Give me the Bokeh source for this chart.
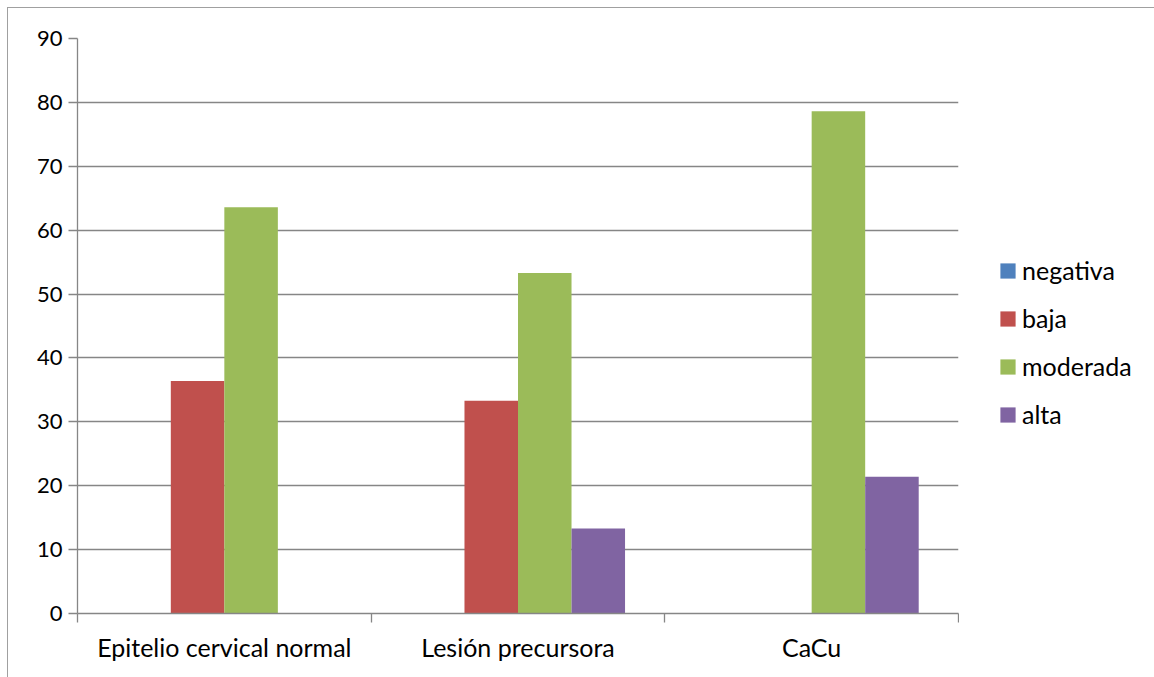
from bokeh.plotting import figure
from bokeh.layouts import row
from bokeh.models import Range1d, FixedTicker, Legend, LegendItem, ColumnDataSource
from bokeh.embed import file_html
from bokeh.resources import INLINE

# Percentage of cases per expression level in each tissue group
categories = ["Epitelio cervical normal", "Lesión precursora", "CaCu"]
series = ["negativa", "baja", "moderada", "alta"]
negativa = [0, 0, 0]
baja = [36.4, 33.3, 0]
moderada = [63.6, 53.3, 78.6]
alta = [0, 13.3, 21.4]
y_ticks = [0, 10, 20, 30, 40, 50, 60, 70, 80, 90]

colors = ["#4F81BD", "#C0504D", "#9BBB59", "#8064A2"]
FONT = "Lato"
GRID = "#868686"

values = [negativa, baja, moderada, alta]
n_series = len(series)
group_frac = 0.729
bar_w = group_frac / n_series

p = figure(width=951, height=669,
           x_range=Range1d(0, len(categories)), y_range=Range1d(0, 90),
           output_backend="svg", toolbar_location=None,
           min_border_left=69, min_border_right=1,
           min_border_top=30, min_border_bottom=64)
p.outline_line_color = None
p.background_fill_color = "white"
p.border_fill_color = "white"

sources = []
for k, vals in enumerate(values):
    offset = (k - (n_series - 1) / 2) * bar_w
    src = ColumnDataSource(dict(x=[i + 0.5 + offset for i in range(len(vals))], top=vals))
    p.vbar(x="x", top="top", bottom=0, width=bar_w, source=src,
           fill_color=colors[k], line_color=None)
    sources.append(src)

# grid
p.xgrid.visible = False
p.ygrid.ticker = FixedTicker(ticks=y_ticks)
p.ygrid.grid_line_color = GRID
p.ygrid.grid_line_width = 1.3

# y axis
ya = p.yaxis[0]
ya.ticker = FixedTicker(ticks=y_ticks)
ya.axis_line_color = GRID
ya.axis_line_width = 1.3
ya.major_tick_line_color = GRID
ya.major_tick_line_width = 1.3
ya.major_tick_out = 9
ya.major_tick_in = 0
ya.minor_tick_line_color = None
ya.major_label_text_font = FONT
ya.major_label_text_font_size = "22px"
ya.major_label_text_color = "black"
ya.major_label_standoff = 6

# x axis: labels at group centers, tick marks at group boundaries
xa = p.xaxis[0]
xa.ticker = FixedTicker(ticks=[i + 0.5 for i in range(len(categories))],
                        minor_ticks=list(range(len(categories) + 1)))
xa.major_label_overrides = {i + 0.5: c for i, c in enumerate(categories)}
xa.axis_line_color = GRID
xa.axis_line_width = 1.3
xa.major_tick_out = 0
xa.major_tick_in = 0
xa.minor_tick_out = 9
xa.minor_tick_in = 0
xa.minor_tick_line_color = GRID
xa.minor_tick_line_width = 1.3
xa.major_label_text_font = FONT
xa.major_label_text_font_size = "25px"
xa.major_label_text_color = "black"
xa.major_label_standoff = 9

# legend panel on the right; its swatch renderers reuse the bar data,
# which lies well outside this panel's ranges so only the legend shows
side = figure(width=195, height=669,
              x_range=Range1d(-11, -10), y_range=Range1d(200, 300),
              output_backend="svg", toolbar_location=None,
              x_axis_location=None, y_axis_location=None,
              min_border_left=0, min_border_right=0,
              min_border_top=0, min_border_bottom=0)
side.outline_line_color = None
side.grid.visible = False
side.background_fill_color = "white"
side.border_fill_color = "white"

swatches = [side.vbar(x="x", top="top", bottom=0, width=bar_w, source=src,
                      fill_color=c, line_color=None)
            for src, c in zip(sources, colors)]

legend = Legend(items=[LegendItem(label=s, renderers=[r]) for s, r in zip(series, swatches)],
                location=(39, 184), orientation="vertical",
                glyph_width=19, glyph_height=19, label_height=30,
                spacing=18, padding=0, margin=0,
                label_text_font=FONT, label_text_font_size="25px",
                label_text_color="black", label_standoff=5,
                border_line_color=None, background_fill_alpha=0)
side.add_layout(legend)

layout = row(p, side, margin=(7, 0, 0, 7), spacing=0,
             styles={"border-left": "1px solid #a0a0a0",
                     "border-top": "1px solid #a0a0a0",
                     "background-color": "white"})

open("out.html", "w").write(file_html(layout, INLINE))
